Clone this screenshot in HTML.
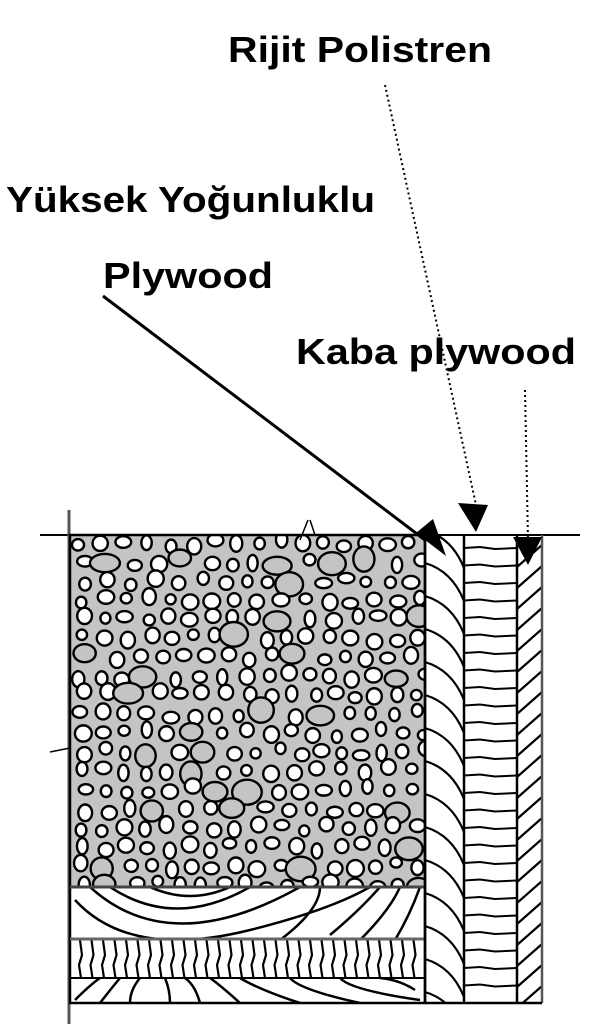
<!DOCTYPE html>
<html><head><meta charset="utf-8"><style>
html,body{margin:0;padding:0;background:#fff;width:606px;height:1024px;overflow:hidden}
svg{position:absolute;left:0;top:0}
.t{font-family:"Liberation Sans",sans-serif;font-weight:bold;font-size:36px;fill:#000}
</style></head><body>
<svg id="s" width="606" height="1024" viewBox="0 0 606 1024">
<defs>
<clipPath id="cc"><rect x="70" y="535" width="355" height="352"/></clipPath>
<clipPath id="w1"><rect x="70" y="887" width="355" height="52"/></clipPath>
<clipPath id="w2"><rect x="70" y="978" width="355" height="25"/></clipPath>
<clipPath id="pl"><rect x="425" y="535" width="39" height="468"/></clipPath>
<clipPath id="kb"><rect x="517" y="535" width="25" height="468"/></clipPath>
</defs>
<rect x="70" y="535" width="355" height="352" fill="#c4c4c4"/>
<g id="circ" clip-path="url(#cc)" fill="#fff" stroke="#000" stroke-width="2.4"></g>
<g clip-path="url(#w1)" fill="none" stroke="#000" stroke-width="2.5">
<path d="M90 887 Q170 960 300 887"/><path d="M110 887 Q175 930 250 887"/><path d="M75 900 Q130 960 250 930 Q330 910 370 887"/>
<path d="M150 887 Q190 905 230 887"/><path d="M330 935 Q360 910 380 887"/><path d="M280 940 Q320 910 320 887"/><path d="M360 940 Q390 910 400 887"/><path d="M395 940 Q410 915 420 887"/>
</g>
<g id="hb" stroke="#000" stroke-width="2.2"></g>
<g clip-path="url(#w2)" fill="none" stroke="#000" stroke-width="2.5">
<path d="M75 1000 Q90 985 100 978"/><path d="M100 1003 Q110 990 120 978"/><path d="M130 1003 Q130 990 140 978"/><path d="M170 1003 Q170 990 165 978"/><path d="M200 1003 Q195 985 185 978"/><path d="M240 1003 Q220 985 210 978"/><path d="M300 1003 Q260 990 240 978"/><path d="M360 1003 Q300 990 290 978"/><path d="M420 1000 Q350 990 340 978"/><path d="M415 990 Q400 980 380 978"/>
</g>
<g clip-path="url(#pl)" fill="none" stroke="#000" stroke-width="2.2" id="plg"></g>
<g id="ps" stroke="#000" stroke-width="2"></g>
<g clip-path="url(#kb)" stroke="#000" stroke-width="2.2" id="kbg"></g>
<g stroke="#000" fill="none">
<line x1="40" y1="535" x2="580" y2="535" stroke-width="2"/>
<line x1="69" y1="510" x2="69" y2="1024" stroke-width="3" stroke="#555"/>
<rect x="70" y="535" width="355" height="468" stroke-width="2.5"/>
<line x1="70" y1="887" x2="425" y2="887" stroke-width="3" stroke="#444"/>
<line x1="70" y1="939" x2="425" y2="939" stroke-width="3" stroke="#666"/>
<line x1="70" y1="978" x2="425" y2="978" stroke-width="2"/>
<line x1="425" y1="535" x2="425" y2="1003" stroke-width="2.5"/>
<line x1="464" y1="535" x2="464" y2="1003" stroke-width="2.5"/>
<line x1="517" y1="535" x2="517" y2="1003" stroke-width="2.5"/>
<line x1="542" y1="535" x2="542" y2="1003" stroke-width="2.5" stroke="#555"/>
<line x1="425" y1="1003" x2="542" y2="1003" stroke-width="2.5"/>
<path d="M310 520 L315 535 M300 540 L308 520" stroke-width="1.5"/>
<path d="M50 752 L70 748" stroke-width="1.5"/>
<line x1="103" y1="296" x2="425" y2="540" stroke-width="3"/>
<line x1="385" y1="85" x2="476" y2="505" stroke-width="2" stroke-dasharray="2 3"/>
<line x1="525" y1="390" x2="528" y2="540" stroke-width="2" stroke-dasharray="2 3"/>
</g>
<polygon points="416,533 433,519 446,556" fill="#000"/>
<polygon points="458,503 488,505 476,532" fill="#000"/>
<polygon points="513,537 542,537 528,565" fill="#000"/>
<text class="t" x="228" y="62" textLength="264" lengthAdjust="spacingAndGlyphs">Rijit Polistren</text>
<text class="t" x="6" y="212" textLength="369" lengthAdjust="spacingAndGlyphs">Yüksek Yoğunluklu</text>
<text class="t" x="103" y="288" textLength="170" lengthAdjust="spacingAndGlyphs">Plywood</text>
<text class="t" x="296" y="364" textLength="280" lengthAdjust="spacingAndGlyphs">Kaba plywood</text>
</svg>
<script>
var ns="http://www.w3.org/2000/svg";
function el(p,t,a){var e=document.createElementNS(ns,t);for(var k in a)e.setAttribute(k,a[k]);document.getElementById(p).appendChild(e);return e;}
var seed=7;function r(){seed=(seed*16807)%2147483647;return seed/2147483647;}
for(var y=543;y<888;y+=19){for(var x=78+(r()*8);x<428;x+=19+r()*6){var big=r()<0.08;var rx=big?10+r()*5:5+r()*3.5,ry=big?8+r()*5:5+r()*3.5;
el("circ","ellipse",{cx:x,cy:y+r()*8-4,rx:rx,ry:ry,fill:big?"#c4c4c4":"#fff"});if(big)x+=10;}}
for(var x=80;x<425;x+=11.5){el("hb","path",{d:"M"+x+" 940 L"+(x+2)+" 955 L"+(x-1)+" 965 L"+(x+1)+" 978",fill:"none"});}
for(var y=530;y<1040;y+=33){el("plg","path",{d:"M425 "+y+" Q452 "+(y+8)+" 464 "+(y+38)});}
for(var y=548;y<1003;y+=17.5){el("ps","path",{d:"M464 "+y+" L480 "+(y-1)+" L495 "+(y+1)+" L517 "+y,fill:"none"});}
for(var y=545;y<1040;y+=21){el("kbg","line",{x1:517,y1:y+22,x2:542,y2:y});}
</script>
</body></html>
